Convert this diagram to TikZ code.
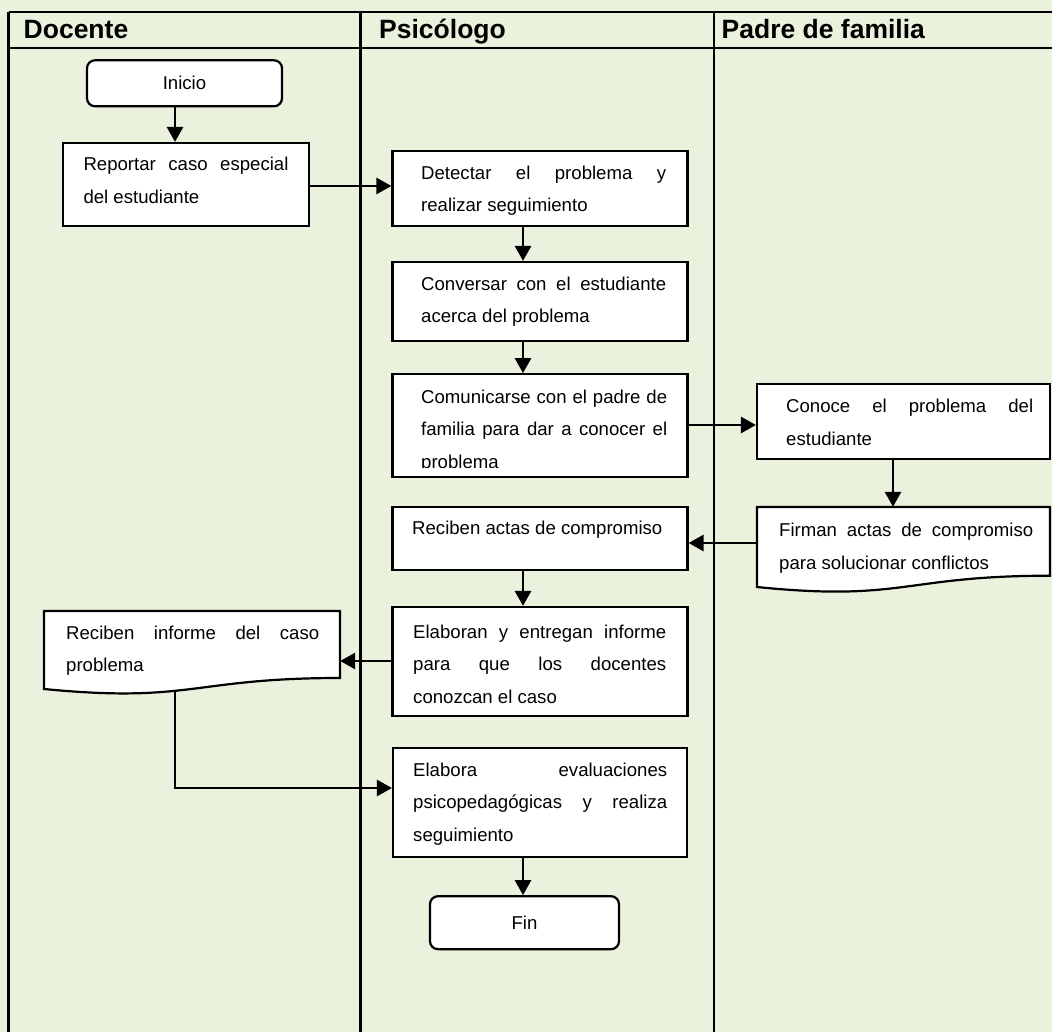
\documentclass[tikz,border=0pt]{standalone}
\usepackage{fontspec}
\setmainfont{Liberation Sans}
\usetikzlibrary{arrows.meta,calc}
\definecolor{lanebg}{RGB}{234,241,221}
% paragraph setup for the justified box texts
\newcommand\boxtextfont{\fontsize{18.6}{32.5}\selectfont
  \hyphenpenalty=10000 \exhyphenpenalty=10000 \tolerance=10000 \relax}
\begin{document}
\begin{tikzpicture}[x=1pt,y=-1pt,
  lane/.style={line width=2.2pt},
  box/.style={draw, fill=white, line width=2.2pt, rectangle, inner sep=0pt},
  term/.style={box, rounded corners=8pt},
  area/.style={rectangle, inner sep=0pt},
  docshape/.style={draw, fill=white, line width=2.2pt},
  flow/.style={line width=2.8pt, -{Triangle[length=15pt,width=16pt]}},
  body/.style={font=\boxtextfont, align=justify, inner sep=0pt, anchor=north west},
  label/.style={font=\fontsize{18.6}{22}\selectfont, inner sep=0pt},
  head/.style={font=\fontsize{26.5}{30}\selectfont\bfseries, inner sep=0pt, anchor=base west},
]
% page and background
\useasboundingbox (0,0) rectangle (1052,1032);
\fill[lanebg] (0,0) rectangle (1052,1032);

% swimlane grid
\draw[lane] (8.5,11.7) -- (1052,11.7);
\draw[lane] (8.5,48.3) -- (1052,48.3);
\draw[lane] (8.5,11.7) -- (8.5,1032);
\draw[lane] (360.5,11.7) -- (360.5,1032);
\draw[lane] (714,11.7) -- (714,1032);

% lane titles
\node[head] (hdoc) at (23.5,39) {Docente};
\node[head] (hpsi) at (379,39) {Psicólogo};
\node[head] (hpad) at (721.5,39) {Padre de familia};

% guide coordinates for connectors
\coordinate (dcol) at (175,0);
\coordinate (pcol) at (523,0);
\coordinate (fcol) at (893,0);
\coordinate (r1) at (0,186);
\coordinate (r2) at (0,425);
\coordinate (r3) at (0,543);
\coordinate (r4) at (0,661);
\coordinate (r5) at (0,788);
\coordinate (tail) at (175,691);

% Docente lane
\node[term, minimum width=195pt, minimum height=46pt] (ini) at (184.5,83.3) {};
\node[label] (initxt) at (ini.center) {Inicio};

\node[box, minimum width=246pt, minimum height=83pt] (rep) at (186,184.5) {};
\node[body, text width=205pt] (reptxt) at (83.3,157.1)
  {Reportar caso especial\linebreak del estudiante};

% document shape: Reciben informe
\node[area, minimum width=296pt, minimum height=68pt] (recinf) at (192,645) {};
\draw[docshape] (44,611) -- (340,611) -- (340,678)
  .. controls (192,678) and (192,703.4) .. (44,689) -- cycle;
\node[body, text width=253pt] (recinftxt) at (66,625.7)
  {Reciben informe del caso\linebreak problema};

% Psicólogo lane
\node[box, minimum width=295pt, minimum height=75pt] (det) at (540,188.5) {};
\node[body, text width=245pt] (dettxt) at (421,165.4)
  {Detectar el problema y\linebreak realizar seguimiento};

\node[box, minimum width=295pt, minimum height=79pt] (conv) at (540,301.5) {};
\node[body, text width=245pt] (convtxt) at (421,276.4)
  {Conversar con el estudiante\linebreak acerca del problema};

\node[box, minimum width=295pt, minimum height=103pt] (com) at (540,425.7) {};
\begin{scope}
  \clip (392,374) rectangle (688,467.5);
  \node[body, text width=246pt] (comtxt) at (421,389.7)
    {Comunicarse con el padre de\linebreak familia para dar a conocer el\linebreak problema};
\end{scope}

\node[box, minimum width=295pt, minimum height=63pt] (reca) at (540,538.5) {};
\node[body, text width=253pt] (recatxt) at (412,520.4)
  {Reciben actas de compromiso};

\node[box, minimum width=295pt, minimum height=109pt] (elab) at (540,661.5) {};
\node[body, text width=253pt] (elabtxt) at (413,624.4)
  {Elaboran y entregan informe\linebreak para que los docentes\linebreak conozcan el caso};

\node[box, minimum width=294pt, minimum height=108.4pt] (elb) at (540,802.5) {};
\node[body, text width=254pt] (elbtxt) at (413,762.4)
  {Elabora evaluaciones\linebreak psicopedagógicas y realiza\linebreak seguimiento};

\node[term, minimum width=189pt, minimum height=53pt] (fin) at (524.5,922.7) {};
\node[label] (fintxt) at (fin.center) {Fin};

% Padre de familia lane
\node[box, minimum width=293pt, minimum height=75pt] (conoce) at (903.5,421.7) {};
\node[body, text width=247pt] (conocetxt) at (786,399)
  {Conoce el problema del\linebreak estudiante};

% document shape: Firman actas
\node[area, minimum width=293pt, minimum height=70pt] (firm) at (903.5,542) {};
\draw[docshape] (757,507) -- (1050,507) -- (1050,575.7)
  .. controls (903.5,575.7) and (903.5,601.9) .. (757,587) -- cycle;
\node[body, text width=254pt] (firmtxt) at (779,523)
  {Firman actas de compromiso\linebreak para solucionar conflictos};

% connectors
\draw[flow] (ini.south -| dcol) -- (rep.north -| dcol);
\draw[flow] (rep.east |- r1) -- (det.west |- r1);
\draw[flow] (det.south -| pcol) -- (conv.north -| pcol);
\draw[flow] (conv.south -| pcol) -- (com.north -| pcol);
\draw[flow] (com.east |- r2) -- (conoce.west |- r2);
\draw[flow] (conoce.south -| fcol) -- (firm.north -| fcol);
\draw[flow] (firm.west |- r3) -- (reca.east |- r3);
\draw[flow] (reca.south -| pcol) -- (elab.north -| pcol);
\draw[flow] (elab.west |- r4) -- (recinf.east |- r4);
\draw[flow] (tail) -- (tail |- r5) -- (elb.west |- r5);
\draw[flow] (elb.south -| pcol) -- (fin.north -| pcol);
\end{tikzpicture}
\end{document}
